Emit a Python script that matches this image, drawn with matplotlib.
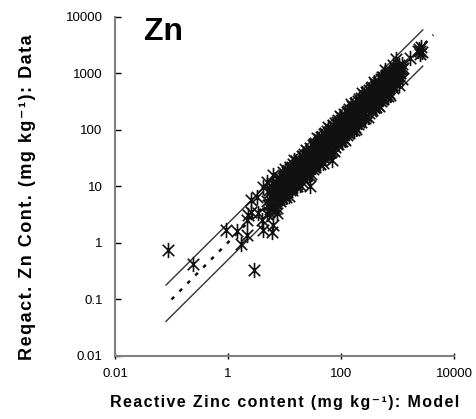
import matplotlib
matplotlib.use("Agg")
import matplotlib.pyplot as plt
from matplotlib.path import Path
import numpy as np

plt.rcParams['font.family'] = ['Liberation Sans', 'DejaVu Sans']

# reactive Zn, mg/kg: model (x) vs measured (y)
# scattered low-range samples
model_low = [0.087, 0.24, 0.91, 2.9, 1.45, 1.7, 2.2, 2.2, 2.6, 3.3, 4.2, 3.4, 4.2,
             6.0, 6.3, 5.1, 7.4, 2.6, 2.3, 4.9, 6.3, 9.1, 9.3, 28, 4.0, 69]
data_low = [0.76, 0.43, 1.7, 0.33, 1.65, 0.96, 1.4, 2.6, 5.7, 6.6, 9.8, 3.4, 1.7,
            1.55, 2.1, 4.7, 3.4, 3.5, 3.1, 12, 16, 7.6, 10, 10, 2.6, 30]

# main body of samples
model_a = [5.0, 5.0, 5.6, 5.6, 6.3, 6.3, 6.3, 7.1, 7.1, 7.1, 7.9, 7.9, 7.9,
           8.9, 8.9, 8.9, 10, 10, 10, 10,
           11, 11, 11, 12.6, 12.6, 12.6, 12.6, 14, 14, 14, 14, 16, 16, 16, 16,
           18, 18, 18, 18, 20, 20, 20, 20, 22, 22, 22, 22, 25, 25, 25, 25,
           28, 28, 28, 28,
           32, 32, 32, 32, 32, 35, 35, 35, 35, 40, 40, 40, 40, 40, 45, 45, 45, 45,
           50, 50, 50, 50, 50, 56, 56, 56, 56, 63, 63, 63, 63, 63, 71, 71, 71, 71,
           79, 79, 79, 79, 79, 89, 89, 89, 89, 100, 100, 100, 100, 100,
           112, 112, 112, 112, 126, 126, 126, 126, 126, 141, 141, 141, 141,
           158, 158, 158, 158, 158, 178, 178, 178, 178, 200, 200, 200, 200, 200,
           224, 224, 224, 224, 251, 251, 251, 251, 251, 282, 282, 282, 282,
           316, 316, 316, 316, 316, 355, 355, 355, 355, 398, 398, 398, 398, 398,
           447, 447, 447, 447, 501, 501, 501, 501, 501, 562, 562, 562, 562,
           631, 631, 631, 631, 708, 708, 708, 708, 794, 794, 794, 891, 891, 891,
           1000, 1000, 1120, 1120, 1260]
data_a = [5.6, 3.2, 8.0, 4.0, 6.3, 9.5, 4.5, 7.9, 5.0, 12, 10, 6.0, 14,
          8.9, 12.5, 6.3, 11, 16, 7.0, 20,
          13, 8, 18, 15, 10, 22, 8.5, 17, 11, 25, 14, 19, 12, 28, 10,
          21, 14, 30, 18, 24, 15, 35, 12, 27, 18, 38, 22, 30, 20, 42, 16,
          33, 22, 48, 28,
          38, 25, 55, 20, 32, 42, 28, 60, 22, 48, 32, 68, 40, 26, 54, 36, 76, 30,
          60, 40, 85, 32, 50, 67, 45, 95, 36, 75, 50, 105, 40, 63, 85, 56, 120, 45,
          95, 63, 135, 50, 79, 107, 71, 150, 56, 120, 80, 170, 63, 100,
          135, 90, 190, 70, 150, 100, 210, 80, 126, 170, 112, 235, 90,
          190, 126, 265, 100, 158, 215, 140, 300, 112, 240, 160, 330, 126, 200,
          270, 180, 370, 140, 300, 200, 420, 160, 251, 340, 225, 470, 180,
          380, 250, 520, 200, 316, 430, 285, 580, 225, 480, 320, 650, 250, 398,
          540, 360, 720, 280, 600, 400, 800, 320, 501, 680, 450, 880, 360,
          760, 500, 950, 400, 850, 560, 1050, 450, 950, 630, 700, 1050, 700, 900,
          1100, 800, 1200, 1000, 1250]

model_b = [5.3, 5.3, 5.3, 6.0, 6.0, 6.0, 6.7, 6.7, 6.7, 7.5, 7.5, 7.5,
           8.4, 8.4, 8.4, 9.4, 9.4, 9.4, 10.6, 10.6, 10.6, 11.9, 11.9, 11.9,
           13.3, 13.3, 13.3, 15, 15, 15, 16.8, 16.8, 16.8, 18.8, 18.8, 18.8,
           21.1, 21.1, 21.1, 23.7, 23.7, 23.7, 26.6, 26.6, 26.6, 29.9, 29.9, 29.9,
           33.5, 33.5, 33.5, 37.6, 37.6, 37.6, 42.2, 42.2, 42.2, 47.3, 47.3, 47.3,
           53.1, 53.1, 53.1, 59.6, 59.6, 59.6, 66.8, 66.8, 66.8, 75, 75, 75,
           84.1, 84.1, 84.1, 94.4, 94.4, 94.4, 106, 106, 106, 119, 119, 119,
           133, 133, 133, 150, 150, 150, 168, 168, 168, 188, 188, 188,
           211, 211, 211, 237, 237, 237, 266, 266, 266, 299, 299, 299,
           335, 335, 335, 376, 376, 376, 422, 422, 422, 473, 473, 473,
           531, 531, 531, 596, 596, 596, 668, 668, 668, 750, 750, 750,
           841, 841, 841, 944, 944, 944, 1060, 1060, 1060, 1190, 1190, 1190]
data_b = [8.8, 4.7, 3.5, 11.5, 7.2, 4.6, 8.8, 4.0, 7.0, 11.3, 7.5, 4.2,
          13.9, 7.5, 5.5, 18, 11.3, 7.1, 14, 6.4, 11.1, 18, 11.9, 6.7,
          22, 11.8, 8.8, 29, 18, 11.4, 22, 10, 17.6, 28, 18.8, 10.5,
          35, 18.8, 13.9, 45, 28, 18, 35, 16, 28, 45, 30, 16.7,
          56, 30, 22, 72, 45, 29, 56, 25, 44, 71, 47, 26,
          88, 47, 35, 114, 72, 45, 88, 40, 70, 113, 75, 42,
          140, 75, 56, 180, 113, 72, 140, 64, 111, 180, 119, 67,
          221, 118, 88, 287, 180, 114, 222, 101, 176, 284, 188, 105,
          350, 188, 139, 453, 284, 180, 351, 160, 279, 451, 299, 167,
          556, 298, 221, 718, 451, 286, 557, 253, 443, 714, 473, 265,
          881, 473, 350, 1138, 715, 453, 882, 401, 701, 1133, 750, 420,
          1396, 748, 555, 1800, 1133, 717, 1400, 636, 1113, 1500, 1190, 800]

# highest samples
model_top = [1660, 2400, 2500, 2600, 2700, 2500, 2300]
data_top = [1860, 2700, 2500, 2900, 2400, 2200, 2500]

# 1:1 envelope (factor ~2) and fitted line
env_x = [0.08, 2800]
env_upper = [0.18, 5900]
env_lower = [0.041, 1350]
fit_x = [0.1, 4300]
fit_y = [0.1, 4800]

xticks = [0.01, 1, 100, 10000]
yticks = [0.01, 0.1, 1, 10, 100, 1000, 10000]

model_zn = model_low + model_a + model_b + model_top
data_zn = data_low + data_a + data_b + data_top


def spaced(s):
    return '\u200a'.join(s)


star = Path([(0, -1), (0, 1), (-0.75, -0.75), (0.75, 0.75), (-0.75, 0.75), (0.75, -0.75)],
            [Path.MOVETO, Path.LINETO, Path.MOVETO, Path.LINETO, Path.MOVETO, Path.LINETO])

fig = plt.figure(figsize=(4.77, 4.19), dpi=100)
ax = fig.add_axes([0.2411, 0.1504, 0.7107, 0.8091])

ax.plot(env_x, env_upper, color='#333333', lw=1.0)
ax.plot(env_x, env_lower, color='#333333', lw=1.0)
ax.plot(fit_x, fit_y, color='#111111', lw=1.8, linestyle=(0, (1.5, 3)))
ax.plot(model_zn, data_zn, linestyle='none', marker=star, ms=11, mew=1.2,
        color='#111111')

ax.set_xscale('log')
ax.set_yscale('log')
ax.set_xlim(0.01, 10000)
ax.set_ylim(0.01, 10000)
ax.set_xticks(xticks)
ax.set_xticklabels(['0.01', '1', '100', '10000'])
ax.set_yticks(yticks)
ax.set_yticklabels(['0.01', '0.1', '1', '10', '100', '1000', '10000'])
ax.minorticks_off()

for side in ['top', 'right']:
    ax.spines[side].set_visible(False)
for side in ['left', 'bottom']:
    ax.spines[side].set_color('#808080')
    ax.spines[side].set_linewidth(1.5)

ax.tick_params(axis='y', direction='in', length=4, width=1, color='black',
               labelsize=9.5, pad=9)
ax.tick_params(axis='x', direction='inout', length=5, width=1, color='black',
               labelsize=9.5, pad=6)

ax.set_xlabel(spaced('Reactive Zinc content (mg kg\u207b\u00b9): Model'),
              fontsize=11.5, fontweight='bold', labelpad=11)
ax.set_ylabel(spaced('Reqact. Zn Cont. (mg kg\u207b\u00b9): Data'),
              fontsize=13, fontweight='bold')
ax.yaxis.set_label_coords(-0.232, 0.469)

ax.text(0.085, 0.957, 'Zn', transform=ax.transAxes, fontsize=23, fontweight='bold',
        ha='left', va='center')

fig.savefig('out.png', dpi=100)
